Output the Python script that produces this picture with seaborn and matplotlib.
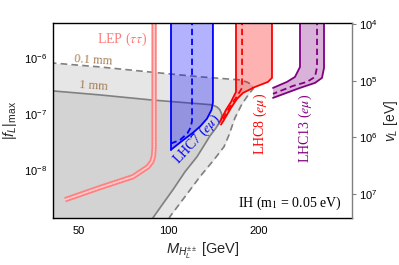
import matplotlib
matplotlib.use("Agg")
import matplotlib.pyplot as plt
import seaborn as sns
from matplotlib.ticker import NullLocator, FixedLocator, NullFormatter

# ---------------- data ----------------
mass_ticks = [50, 100, 200]
mass_tick_labels = ["50", "100", "200"]
f_ticks = [1e-8, 1e-7, 1e-6]
vev_ticks = [1e4, 1e5, 1e6, 1e7]

# 0.1 mm decay-length contour (dashed)
dv01_m = [40.0, 58.9, 86.6, 127.1, 173.1, 182.7, 189.8, 191.3, 185.5, 175.8,
          166.5, 159.0, 153.0, 141.6, 127.1, 113.3, 100.9, 99.4]
dv01_f = [8.2e-7, 6.9e-7, 5.6e-7, 4.6e-7, 4.05e-7, 3.7e-7, 3.3e-7, 2.8e-7, 2.28e-7, 1.51e-7,
          8.5e-8, 4.2e-8, 2.58e-8, 1.51e-8, 7.5e-9, 3.3e-9, 1.45e-9, 1.2e-9]

# 1 mm decay-length contour (solid)
dv1_m = [40.0, 58.9, 86.6, 127.1, 139.5, 144.9, 148.3, 150.6, 149.5, 143.9,
         137.4, 124.3, 113.3, 103.3, 95.6, 88.6, 87.6]
dv1_f = [2.6e-7, 2.18e-7, 1.78e-7, 1.51e-7, 1.45e-7, 1.33e-7, 1.18e-7, 9.6e-8, 7.8e-8, 5.6e-8,
         4.05e-8, 1.71e-8, 9.2e-9, 4.4e-9, 2.47e-9, 1.39e-9, 1.2e-9]

# LEP (tau tau)
lep_m = [89.3, 89.3, 88.9, 87.8, 85.2, 75.9, 58.9, 45.0]
lep_f = [5e-6, 2.5e-8, 1.75e-8, 1.4e-8, 1.13e-8, 7.5e-9, 4.8e-9, 2.91e-9]

# LHC7 (e mu)
lhc7_left_m = [101.7, 101.7]
lhc7_left_f = [5e-6, 2.28e-8]
lhc7_right_m = [140.5, 140.5, 139.0, 134.2, 127.5, 120.5, 111.0, 101.7]
lhc7_right_f = [5e-6, 1.6e-7, 1.18e-7, 8.2e-8, 6.0e-8, 4.6e-8, 3.3e-8, 2.28e-8]
lhc7_mid_m = [119.6, 119.6, 118.5, 115.5, 109.0, 101.7]
lhc7_mid_f = [5e-6, 7.5e-8, 5.8e-8, 4.5e-8, 3.4e-8, 2.95e-8]

# LHC8 (e mu)
lhc8_left_m = [167.8, 167.8, 161.5, 155.4, 148.3]
lhc8_left_f = [5e-6, 2.47e-7, 1.64e-7, 1.18e-7, 7.2e-8]
lhc8_right_m = [221.4, 221.4, 214.7, 194.3, 177.1, 169.1, 161.5, 153.0, 149.5]
lhc8_right_f = [5e-6, 4.4e-7, 3.73e-7, 3.03e-7, 2.37e-7, 1.85e-7, 1.28e-7, 7.8e-8, 6.4e-8]
lhc8_mid_m = [175.8, 175.8, 167.8, 160.2, 150.6]
lhc8_mid_f = [5e-6, 2.91e-7, 1.93e-7, 1.33e-7, 7.5e-8]

# LHC13 (e mu)
lhc13_left_m = [274.7, 274.7, 264.3, 248.5, 223.1]
lhc13_left_f = [5e-6, 6.9e-7, 4.58e-7, 3.73e-7, 2.91e-7]
lhc13_right_m = [330.5, 330.5, 325.4, 308.4, 274.7, 223.1]
lhc13_right_f = [5e-6, 6.6e-7, 4.4e-7, 3.58e-7, 2.91e-7, 1.93e-7]
lhc13_mid_m = [313.2, 313.2, 308.4, 289.9, 260.3, 223.1]
lhc13_mid_f = [5e-6, 6.9e-7, 4.58e-7, 3.73e-7, 3.16e-7, 2.28e-7]

xlim = (41, 410)
ylim = (1.37e-9, 4.22e-6)
vlim = (2.65e7, 9.6e3)

# ---------------- style ----------------
sns.set_theme(style="white")
plt.rcParams["font.family"] = ["Liberation Sans", "DejaVu Sans"]
plt.rcParams["mathtext.fontset"] = "custom"
plt.rcParams["mathtext.rm"] = "Liberation Sans"
plt.rcParams["mathtext.it"] = "Liberation Sans:italic"
plt.rcParams["mathtext.bf"] = "Liberation Sans:bold"

fig = plt.figure(figsize=(3.99, 2.65), dpi=100)
ax = fig.add_axes([53 / 399, 47 / 265, 299 / 399, 195 / 265])
ax.set_xscale("log")
ax.set_yscale("log")
ax.set_xlim(*xlim)
ax.set_ylim(*ylim)

gray_line = "#808080"

# gray regions
ax.fill_betweenx(dv01_f, xlim[0] * 0.9, dv01_m, color="#e6e6e6", lw=0, zorder=1)
ax.fill_betweenx(dv1_f, xlim[0] * 0.9, dv1_m, color="#d3d3d3", lw=0, zorder=1.1)
sns.lineplot(x=dv01_m, y=dv01_f, sort=False, estimator=None, ax=ax, color=gray_line,
             lw=1.2, linestyle=(0, (4, 2.5)), zorder=1.5)
sns.lineplot(x=dv1_m, y=dv1_f, sort=False, estimator=None, ax=ax, color=gray_line,
             lw=1.2, zorder=1.5)

# LEP
sns.lineplot(x=lep_m, y=lep_f, sort=False, estimator=None, ax=ax, color="#ff8080",
             lw=3.8, zorder=2, solid_capstyle="butt")
sns.lineplot(x=lep_m, y=lep_f, sort=False, estimator=None, ax=ax, color="#ffc0c0",
             lw=1.3, zorder=2.1, solid_capstyle="butt")
sns.lineplot(x=lep_m, y=lep_f, sort=False, estimator=None, ax=ax, color="white",
             lw=0.6, alpha=0.6, linestyle=(0, (1, 2)), zorder=2.2)


def band(left_m, left_f, right_m, right_f, mid_m, mid_f, color):
    poly_m = list(left_m) + list(right_m)[::-1]
    poly_f = list(left_f) + list(right_f)[::-1]
    ax.fill(poly_m, poly_f, color=color, alpha=0.3, lw=0, zorder=2.5)
    sns.lineplot(x=left_m, y=left_f, sort=False, estimator=None, ax=ax, color=color,
                 lw=1.3, zorder=3)
    sns.lineplot(x=right_m, y=right_f, sort=False, estimator=None, ax=ax, color=color,
                 lw=1.3, zorder=3)
    sns.lineplot(x=mid_m, y=mid_f, sort=False, estimator=None, ax=ax, color=color,
                 lw=1.3, linestyle=(0, (3.5, 2)), zorder=3)


band(lhc7_left_m, lhc7_left_f, lhc7_right_m, lhc7_right_f, lhc7_mid_m, lhc7_mid_f, "#0000ff")
band(lhc8_left_m, lhc8_left_f, lhc8_right_m, lhc8_right_f, lhc8_mid_m, lhc8_mid_f, "#ff0000")
band(lhc13_left_m, lhc13_left_f, lhc13_right_m, lhc13_right_f, lhc13_mid_m, lhc13_mid_f, "#800080")

# ---------------- texts ----------------
serif = ["Liberation Serif", "DejaVu Serif"]
ax.text(69.7, 2.18e-6, r"LEP ($\tau\tau$)", color="#ff7a7a", family=serif, fontsize=10,
        math_fontfamily="stix", ha="center", va="center", zorder=4)
ax.text(55.8, 9.2e-7, "0.1 mm", color="#a57c52", family=serif, fontsize=9,
        ha="center", va="center", rotation=-4, zorder=4)
ax.text(56.2, 3.16e-7, "1 mm", color="#a57c52", family=serif, fontsize=9,
        ha="center", va="center", rotation=-4, zorder=4)
ax.text(124.3, 3.5e-8, r"LHC7 ($e\mu$)", color="#0000ff", family=serif, fontsize=10,
        math_fontfamily="stix", ha="center", va="center", rotation=47, zorder=4)
ax.text(201.9, 6.6e-8, r"LHC8 ($e\mu$)", color="#ff0000", family=serif, fontsize=10,
        math_fontfamily="stix", ha="center", va="center", rotation=90, zorder=4)
ax.text(285.5, 5.4e-8, r"LHC13 ($e\mu$)", color="#800080", family=serif, fontsize=10,
        math_fontfamily="stix", ha="center", va="center", rotation=90, zorder=4)
ax.text(0.965, 0.077, r"IH (m$_1$ = 0.05 eV)", transform=ax.transAxes, color="black",
        family=serif, fontsize=10, math_fontfamily="stix", ha="right", va="center", zorder=4)

# ---------------- axes ----------------
ax.xaxis.set_major_locator(FixedLocator(mass_ticks))
ax.set_xticklabels(mass_tick_labels)
ax.xaxis.set_minor_locator(NullLocator())
ax.xaxis.set_minor_formatter(NullFormatter())
ax.yaxis.set_major_locator(FixedLocator(f_ticks))
ax.yaxis.set_minor_locator(NullLocator())
ax.tick_params(axis="both", which="both", length=0, labelsize=8, colors="black")
ax.tick_params(axis="x", pad=6)
ax.tick_params(axis="y", pad=4)
for side in ["left", "bottom", "top", "right"]:
    ax.spines[side].set_color("black")
    ax.spines[side].set_linewidth(1.0)
    ax.spines[side].set_zorder(5)
ax.spines["right"].set_visible(False)

ax.set_xlabel(r"$M_{H_L^{\pm\pm}}$ [GeV]", fontsize=10.5, labelpad=3)
ax.set_ylabel(r"$|f_L|_{\rm max}$", fontsize=10.5, labelpad=4)

ax2 = ax.twinx()
ax2.set_yscale("log")
ax2.set_ylim(*vlim)
ax2.yaxis.set_major_locator(FixedLocator(vev_ticks))
ax2.yaxis.set_minor_locator(NullLocator())
ax2.tick_params(axis="y", which="major", direction="out", length=3, width=0.8,
                color=gray_line, labelcolor="black", labelsize=8, pad=2)
for side in ["left", "bottom", "top"]:
    ax2.spines[side].set_visible(False)
ax2.spines["right"].set_color(gray_line)
ax2.spines["right"].set_linewidth(1.0)
ax2.set_ylabel(r"$v_L$ [eV]", fontsize=10, labelpad=3)
ax2.grid(False)
ax.grid(False)

fig.savefig("out.png", dpi=100)
